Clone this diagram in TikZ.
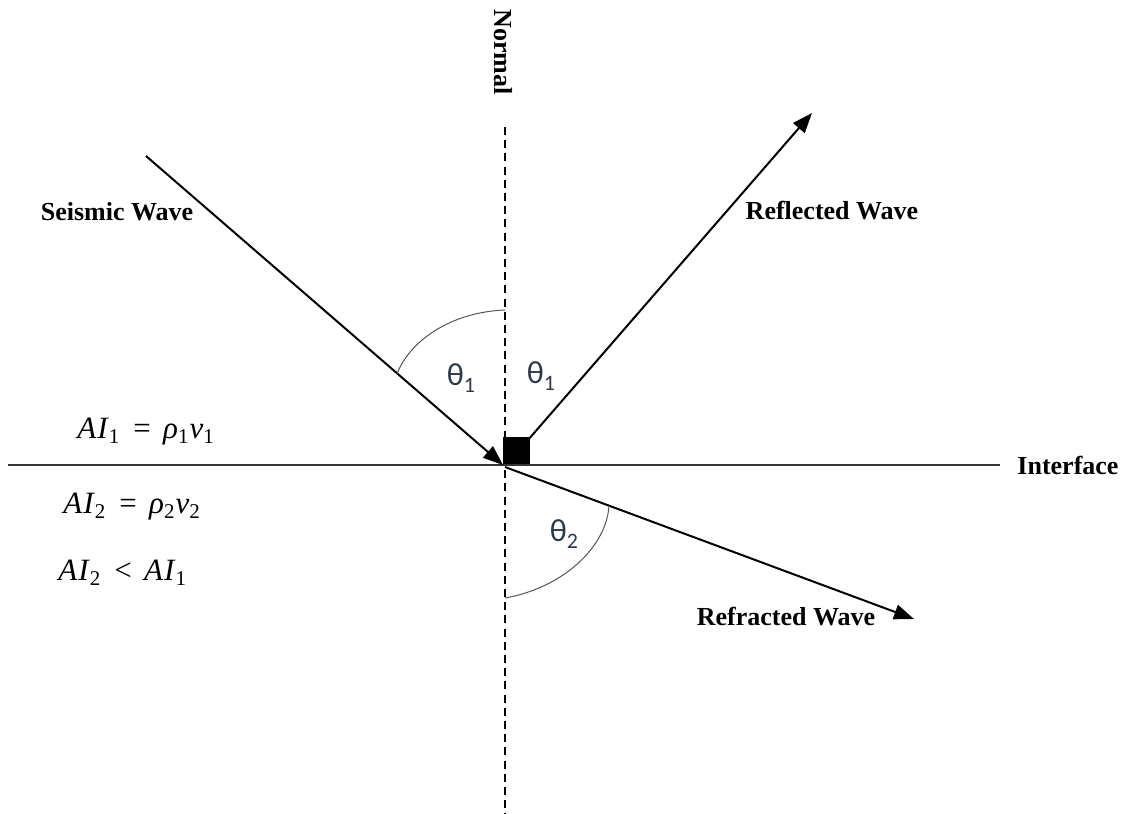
\documentclass[tikz,border=0pt]{standalone}
\usepackage{fontspec}
\setmainfont{Liberation Serif}
\newfontfamily\thetafont{Carlito}
\usetikzlibrary{arrows.meta}
\definecolor{thetacol}{HTML}{2B3A4A}
\definecolor{arccol}{HTML}{555555}
\newcommand\lowsub[1]{\raisebox{-0.4ex}{\fontsize{10.5}{10.5}\selectfont #1}}
\newcommand\thsub[1]{\raisebox{-0.45ex}{\fontsize{11}{11}\selectfont #1}}
\begin{document}
\begin{tikzpicture}[x=0.5pt,y=-0.5pt,
  lbl/.style={font=\fontsize{13}{13}\selectfont\bfseries, inner sep=0pt},
  eqn/.style={font=\fontsize{15.5}{15.5}\selectfont, inner sep=0pt, anchor=base west},
  ray/.style={line width=1pt, -{Triangle[length=10pt,width=7.5pt]}},
  th/.style={font=\fontsize{16}{16}\selectfont\thetafont, text=thetacol, inner sep=0pt},
  arcline/.style={line width=0.5pt, draw=arccol}]
\useasboundingbox (0,0) rectangle (1132,814);
% points
\coordinate (O) at (505,465);
\coordinate (normtop) at (505,127);
\coordinate (normbot) at (505,814);
\coordinate (ifl) at (8,465);
\coordinate (ifr) at (1000,465);
\coordinate (sstart) at (146,156);
\coordinate (shit) at (503,465);
\coordinate (rstart) at (528,440);
\coordinate (rtip) at (812,113);
\coordinate (fstart) at (505,467);
\coordinate (ftip) at (914,619);
% normal and interface
\draw[line width=0.9pt, dash pattern=on 4pt off 2.6pt] (normtop) -- (normbot);
\draw[line width=1pt, draw=black!80] (ifl) -- (ifr);
% square
\fill (503,437) rectangle (530,464);
% rays
\draw[ray] (sstart) -- (shit);
\draw[ray] (rstart) -- (rtip);
\draw[ray] (fstart) -- (ftip);
% arcs
\coordinate (a1s) at (505,310);
\coordinate (a1e) at (397,374);
\draw[arcline] (a1s) .. controls (452,312) and (410,340) .. (a1e);
\coordinate (a2s) at (609,506);
\coordinate (a2e) at (505,598);
\draw[arcline] (a2s) .. controls (606,548) and (562,588) .. (a2e);
% theta labels
\node[th] (t1l) at (461,378) {θ\thsub{1}};
\node[th] (t1r) at (541,376) {θ\thsub{1}};
\node[th] (t2) at (564,534) {θ\thsub{2}};
% text labels
\node[lbl, rotate=-90] (normal) at (503,52) {Normal};
\node[lbl] (seis) at (117,212) {Seismic Wave};
\node[lbl] (refl) at (832,211) {Reflected Wave};
\node[lbl] (intf) at (1068,465) {Interface};
\node[lbl] (refr) at (786,617) {Refracted Wave};
% equations
\node[eqn] (eq1) at (77,438) {\textit{A\kern0.5pt I}\lowsub{1}\hspace{0.45em}=\hspace{0.4em}\textit{ρ}\lowsub{1}\kern0.5pt\textit{v}\lowsub{1}};
\node[eqn] (eq2) at (63,513) {\textit{A\kern0.5pt I}\lowsub{2}\hspace{0.45em}=\hspace{0.4em}\textit{ρ}\lowsub{2}\kern0.5pt\textit{v}\lowsub{2}};
\node[eqn] (eq3) at (58,580) {\textit{A\kern0.5pt I}\lowsub{2}\hspace{0.45em}<\hspace{0.4em}\textit{A\kern0.5pt I}\lowsub{1}};
\end{tikzpicture}
\end{document}
